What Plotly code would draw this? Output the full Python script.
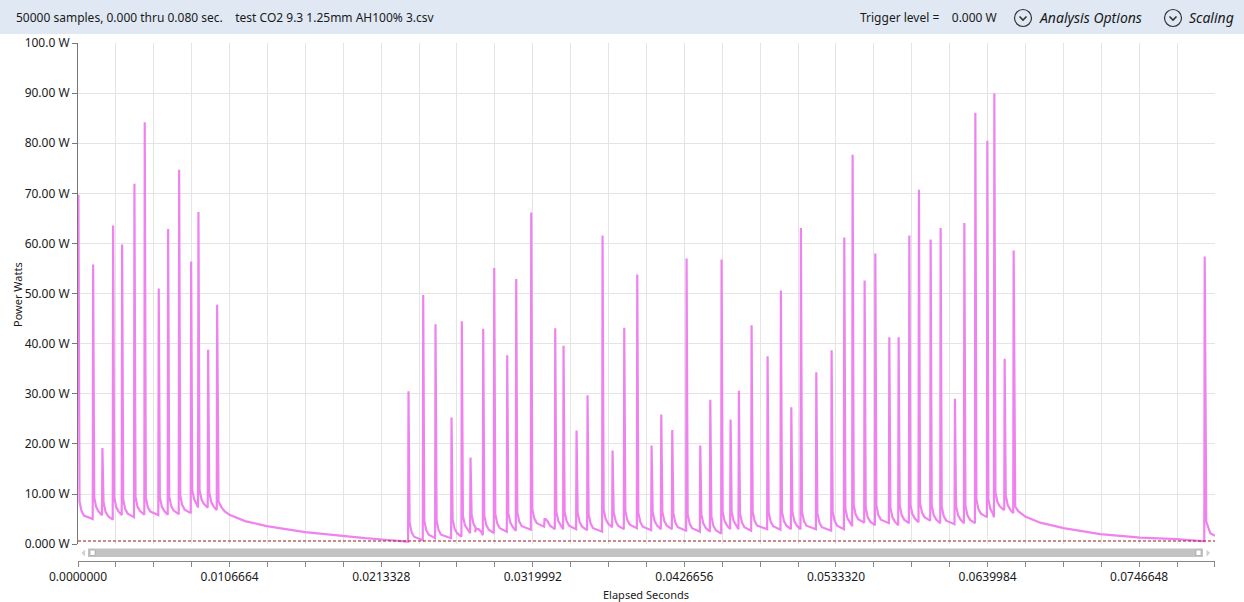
import plotly.graph_objects as go

# ---------------- data ----------------
# burst 1: pulse start times (s), peak power (W), level reached just before the next pulse (W)
BURST1_T = [0.0, 0.001035, 0.001689, 0.002442, 0.003076, 0.003941, 0.004666,
            0.005651, 0.006313, 0.007087, 0.007932, 0.008445, 0.009128, 0.009761]
BURST1_PEAK = [69.5, 55.8, 19.2, 63.6, 59.8, 71.9, 84.2, 51.0, 62.9, 74.7, 56.4, 66.3, 38.8, 47.8]
BURST1_TROUGH = [5.0, 5.8, 4.9, 5.8, 5.4, 5.9, 5.8, 5.9, 6.0, 6.2, 7.3, 7.3, 6.8]

# slow decay after burst 1
TAIL1_T = [0.009888, 0.010134, 0.010346, 0.010697, 0.011753, 0.013280, 0.014568,
           0.015976, 0.017383, 0.018671, 0.020198, 0.021838, 0.023014]
TAIL1_V = [8.5, 7.2, 6.5, 5.8, 4.6, 3.6, 3.0, 2.4, 2.0, 1.6, 1.2, 0.84, 0.5]

BURST2_T = [0.023225, 0.024259, 0.025125, 0.026251, 0.026976, 0.027588, 0.027940,
            0.028482, 0.029256, 0.030171, 0.030804, 0.031860, 0.032796, 0.033549,
            0.034133, 0.035048, 0.035822, 0.036878, 0.037582, 0.038405, 0.039320,
            0.040327, 0.041009, 0.041783, 0.042790, 0.043754, 0.044458, 0.045253,
            0.045886, 0.046471, 0.047364, 0.048490, 0.049426, 0.050158, 0.050834,
            0.051918, 0.052994, 0.053888, 0.054472, 0.055317, 0.056070, 0.057055,
            0.057710, 0.058463, 0.059139, 0.059962, 0.060666, 0.061672, 0.062334,
            0.063108, 0.063952, 0.064445, 0.065170, 0.065803]
BURST2_PEAK = [30.5, 49.7, 43.9, 25.3, 44.5, 17.3, 3.0, 43.0, 55.1, 37.7, 52.9, 66.2,
               5.0, 43.1, 39.6, 22.7, 29.7, 61.6, 18.7, 43.2, 53.8, 19.7, 25.9, 22.8,
               57.0, 19.7, 28.8, 56.8, 24.9, 30.6, 43.7, 37.5, 50.6, 27.3, 63.1, 34.3,
               38.7, 61.2, 77.7, 52.6, 58.0, 41.3, 41.3, 61.6, 70.7, 60.8, 63.1, 29.0,
               64.1, 86.1, 80.5, 89.9, 37.0, 58.6]
BURST2_TROUGH = [0.8, 1.2, 1.2, 1.5, 2.2, 2.4, 1.8, 2.2, 2.5, 2.7, 2.9, 3.5, 3.0, 3.0,
                 3.0, 2.8, 2.5, 3.4, 3.0, 3.2, 2.8, 3.0, 3.0, 2.7, 2.5, 2.5, 2.1, 3.0,
                 3.0, 2.7, 3.0, 2.9, 3.0, 3.0, 3.0, 2.7, 3.0, 3.6, 4.3, 3.8, 4.2, 3.8,
                 4.2, 4.4, 4.7, 4.2, 4.0, 4.2, 4.2, 5.4, 5.4, 6.8, 6.2]

# slow decay after burst 2
TAIL2_T = [0.065944, 0.066155, 0.066648, 0.067704, 0.069343, 0.071926, 0.074741,
           0.077324, 0.079083]
TAIL2_V = [7.5, 6.6, 5.5, 4.3, 3.2, 2.0, 1.3, 1.0, 0.6]

# final single pulse
BURST3_T = [0.079245]
BURST3_PEAK = [57.4]
BURST3_TROUGH = []
TAIL3_T = [0.079386, 0.079667, 0.080000]
TAIL3_V = [4.5, 2.2, 1.7]

# shape of the fast fall right after each spike (offset s, W above the following trough)
DECAY_DT = [0.000106, 0.000246, 0.000422]
DECAY_ABOVE = [3.5, 1.6, 0.7]
RISE_DT = 0.00003

TRIGGER_LEVEL = 0.64

Y_TICK_VALUES = [0, 10, 20, 30, 40, 50, 60, 70, 80, 90, 100]
Y_TICK_LABELS = ["0.000 W", "10.00 W", "20.00 W", "30.00 W", "40.00 W", "50.00 W",
                 "60.00 W", "70.00 W", "80.00 W", "90.00 W", "100.0 W"]
X_TICK_LABELS = ["0.0000000", "0.0106664", "0.0213328", "0.0319992", "0.0426656",
                 "0.0533320", "0.0639984", "0.0746648"]
X_MINOR_STEP = 0.0026666
X_RANGE = [0.0, 0.08]

HEADER_LEFT = "50000 samples, 0.000 thru 0.080 sec.\u00a0\u00a0\u00a0 test CO2 9.3 1.25mm AH100% 3.csv"
HEADER_TRIGGER = "Trigger level =\u00a0\u00a0\u00a0 0.000 W"

# ---------------- build the trace ----------------
xs, ys = [], []


def add_burst(times, peaks, troughs, start_level, tail_t, tail_v):
    prev = start_level
    n = len(times)
    for i in range(n):
        t, p = times[i], peaks[i]
        xs.extend([t, t + RISE_DT])
        ys.extend([prev, p])
        if i < n - 1:
            tr = troughs[i]
            for dt, a in zip(DECAY_DT, DECAY_ABOVE):
                xs.append(t + dt)
                ys.append(min(tr + a, p))
            prev = tr
    xs.extend(tail_t)
    ys.extend(tail_v)


add_burst(BURST1_T, BURST1_PEAK, BURST1_TROUGH, BURST1_PEAK[0], TAIL1_T, TAIL1_V)
add_burst(BURST2_T, BURST2_PEAK, BURST2_TROUGH, TAIL1_V[-1], TAIL2_T, TAIL2_V)
add_burst(BURST3_T, BURST3_PEAK, BURST3_TROUGH, TAIL2_V[-1], TAIL3_T, TAIL3_V)

# ---------------- layout geometry (pixels) ----------------
W, H = 1244, 602
ML, MR, MT, MB = 78, 29, 43, 41
PW, PH = W - ML - MR, H - MT - MB
ZERO_PY = 544.2
Y_DOMAIN0 = (H - MB - ZERO_PY) / PH


def px2x(px):
    return (px - ML) / PW


def py2y(py):
    return (H - MB - py) / PH


FONT = "Noto Sans"
TXT = "#1a1a1a"

fig = go.Figure()
fig.add_trace(go.Scatter(x=xs, y=ys, mode="lines",
                         line=dict(color="#ef82ef", width=2.2),
                         hoverinfo="skip", showlegend=False))

shapes = []
# trigger level dashed line
shapes.append(dict(type="line", xref="x", yref="y", x0=X_RANGE[0], x1=X_RANGE[1],
                   y0=TRIGGER_LEVEL, y1=TRIGGER_LEVEL,
                   line=dict(color="#9a1a1a", width=1, dash="3px,2px"), layer="above"))
# header band
shapes.append(dict(type="rect", xref="paper", yref="paper", x0=px2x(0), x1=px2x(W),
                   y0=py2y(34), y1=py2y(0), fillcolor="#dfe8f3", line=dict(width=0),
                   layer="below"))
# scrollbar
shapes.append(dict(type="rect", xref="paper", yref="paper", x0=px2x(88), x1=px2x(1203),
                   y0=py2y(557), y1=py2y(548.5), fillcolor="#c3c3c3", line=dict(width=0)))
for sx in (90, 1196):
    shapes.append(dict(type="rect", xref="paper", yref="paper", x0=px2x(sx), x1=px2x(sx + 5),
                       y0=py2y(555.5), y1=py2y(550), fillcolor="#ffffff",
                       line=dict(color="#9a9a9a", width=0.6)))
# scroll arrows
shapes.append(dict(type="path", xref="paper", yref="paper",
                   path=f"M {px2x(85)},{py2y(549.5)} L {px2x(81.5)},{py2y(553)} L {px2x(85)},{py2y(556.5)} Z",
                   fillcolor="#cfcfcf", line=dict(width=0)))
shapes.append(dict(type="path", xref="paper", yref="paper",
                   path=f"M {px2x(1206.5)},{py2y(549.5)} L {px2x(1210)},{py2y(553)} L {px2x(1206.5)},{py2y(556.5)} Z",
                   fillcolor="#cfcfcf", line=dict(width=0)))
# dropdown circle icons
for cx in (1023, 1173):
    r = 8.5
    shapes.append(dict(type="circle", xref="paper", yref="paper",
                       x0=px2x(cx - r), x1=px2x(cx + r), y0=py2y(18 + r), y1=py2y(18 - r),
                       line=dict(color="#333333", width=1.2)))
    shapes.append(dict(type="path", xref="paper", yref="paper",
                       path=f"M {px2x(cx - 3.5)},{py2y(16.5)} L {px2x(cx)},{py2y(20)} L {px2x(cx + 3.5)},{py2y(16.5)}",
                       line=dict(color="#333333", width=1.6)))

annotations = [
    dict(text=HEADER_LEFT, xref="paper", yref="paper", x=px2x(14), y=py2y(18),
         xanchor="left", yanchor="middle", showarrow=False,
         font=dict(family=FONT, size=12, color=TXT)),
    dict(text=HEADER_TRIGGER, xref="paper", yref="paper", x=px2x(858), y=py2y(18),
         xanchor="left", yanchor="middle", showarrow=False,
         font=dict(family=FONT, size=12, color=TXT)),
    dict(text="<i>Analysis Options</i>", xref="paper", yref="paper", x=px2x(1037), y=py2y(18),
         xanchor="left", yanchor="middle", showarrow=False,
         font=dict(family=FONT, size=14, color=TXT)),
    dict(text="<i>Scaling</i>", xref="paper", yref="paper", x=px2x(1187), y=py2y(18),
         xanchor="left", yanchor="middle", showarrow=False,
         font=dict(family=FONT, size=14, color=TXT)),
    dict(text="Power Watts", xref="paper", yref="paper", x=px2x(17), y=py2y(295),
         xanchor="center", yanchor="middle", showarrow=False, textangle=-90,
         font=dict(family=FONT, size=11, color=TXT)),
    dict(text="Elapsed Seconds", xref="paper", yref="paper", x=px2x(646), y=py2y(594),
         xanchor="center", yanchor="middle", showarrow=False,
         font=dict(family=FONT, size=11, color=TXT)),
]

fig.update_layout(
    width=W, height=H,
    margin=dict(l=ML, r=MR, t=MT, b=MB, pad=0),
    paper_bgcolor="white", plot_bgcolor="white",
    font=dict(family=FONT, size=12, color=TXT),
    shapes=shapes, annotations=annotations,
    xaxis=dict(range=X_RANGE, anchor="free", position=0,
               tickvals=[float(s) for s in X_TICK_LABELS], ticktext=X_TICK_LABELS,
               ticks="outside", ticklen=5, tickcolor="#888888", tickwidth=1,
               showline=True, linecolor="#888888", linewidth=1,
               showgrid=True, gridcolor="#e4e4e4", gridwidth=1, zeroline=False,
               tickfont=dict(family=FONT, size=12, color=TXT),
               minor=dict(tick0=0, dtick=X_MINOR_STEP, ticks="outside", ticklen=5,
                          tickcolor="#888888", showgrid=True, gridcolor="#e4e4e4")),
    yaxis=dict(range=[0, 100], domain=[Y_DOMAIN0, 1],
               tickvals=Y_TICK_VALUES, ticktext=Y_TICK_LABELS,
               ticks="outside", ticklen=5, tickcolor="#777777",
               showline=True, linecolor="#777777", linewidth=1,
               showgrid=True, gridcolor="#e4e4e4", zeroline=False,
               tickfont=dict(family=FONT, size=12, color=TXT)),
)

fig.write_html("out.html")
